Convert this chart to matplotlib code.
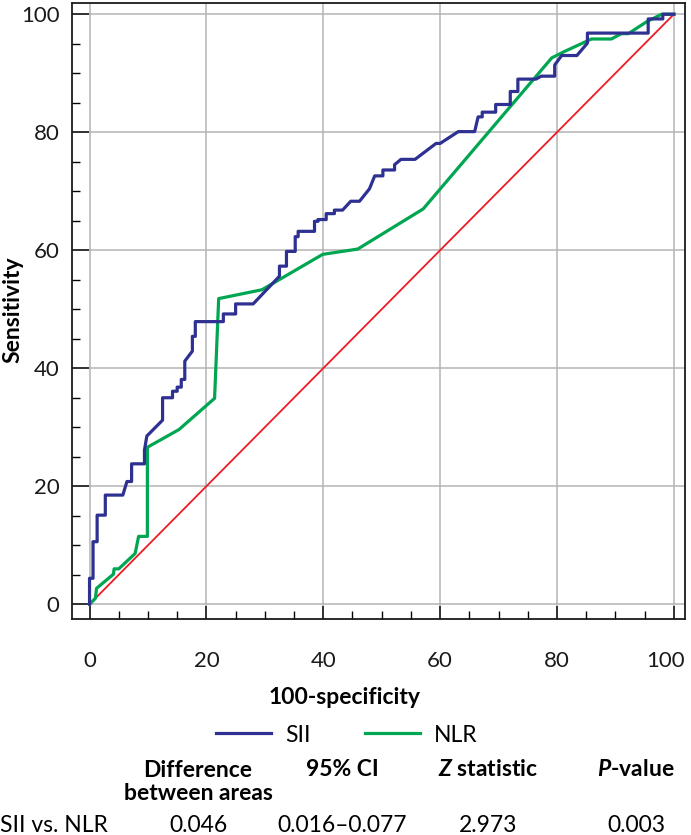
import matplotlib
matplotlib.use("Agg")
import matplotlib.pyplot as plt
from matplotlib.ticker import MultipleLocator, FixedLocator, FuncFormatter

plt.rcParams['font.family'] = ['Lato', 'DejaVu Sans']
plt.rcParams['mathtext.fontset'] = 'custom'
plt.rcParams['mathtext.it'] = 'Lato:italic:bold'
plt.rcParams['mathtext.rm'] = 'Lato:bold'

# ROC curves (100-specificity, sensitivity)
sii_fpr = [0, 0, 0.6, 0.6, 1.3, 1.3, 2.7, 2.7, 5.7, 6.4, 7.2, 7.2, 9.4, 9.4, 9.8,
           12.5, 12.5, 14.2, 14.2, 15.0, 15.0, 15.7, 15.7, 16.3, 16.3, 17.6, 17.6,
           18.1, 18.1, 22.9, 22.9, 25.0, 25.0, 28.0, 32.5, 32.5, 33.7, 33.7, 35.2,
           35.2, 35.7, 35.7, 38.5, 38.5, 39.1, 39.1, 40.5, 40.5, 41.9, 41.9, 43.3,
           44.7, 46.2, 47.9, 48.8, 50.2, 50.2, 52.2, 52.2, 53.3, 55.7, 59.3, 60.0,
           63.1, 65.9, 66.5, 67.2, 67.2, 69.5, 69.5, 72.0, 72.0, 73.3, 73.3, 76.4,
           77.3, 79.6, 79.6, 80.8, 83.4, 85.2, 85.2, 95.6, 95.6, 98.1, 98.1, 100]
sii_tpr = [0, 4.4, 4.4, 10.6, 10.6, 15.1, 15.1, 18.5, 18.5, 20.8, 20.8, 23.8, 23.8, 26.1, 28.5,
           31.2, 35.0, 35.0, 36.1, 36.1, 36.8, 36.8, 38.1, 38.1, 41.2, 42.9, 45.4,
           45.4, 47.9, 47.9, 49.2, 49.2, 50.9, 50.9, 55.6, 57.3, 57.3, 59.8, 59.8,
           62.3, 62.3, 63.2, 63.2, 64.9, 64.9, 65.2, 65.2, 66.2, 66.2, 66.8, 66.8,
           68.3, 68.3, 70.4, 72.6, 72.6, 73.6, 73.6, 74.5, 75.4, 75.4, 78.1, 78.1,
           80.1, 80.1, 82.6, 82.6, 83.4, 83.4, 84.7, 84.7, 86.9, 86.9, 89.0, 89.0,
           89.5, 89.5, 91.4, 93.0, 93.0, 95.1, 96.8, 96.8, 99.2, 99.2, 100, 100]

nlr_fpr = [0, 1.0, 1.2, 4.1, 4.2, 5.0, 7.8, 8.4, 9.9, 9.9, 15.3, 21.4, 22.1, 29.5,
           39.9, 45.9, 57.1, 79.1, 81.1, 85.9, 89.3, 91.0, 92.2, 95.3, 97.9, 100]
nlr_tpr = [0, 1.0, 2.7, 5.1, 6.0, 6.0, 8.6, 11.5, 11.5, 26.6, 29.6, 34.9, 51.8, 53.3,
           59.3, 60.2, 67.0, 92.6, 93.6, 95.8, 95.8, 96.7, 96.7, 98.7, 100, 100]

ref_line = [0, 100]
x_ticks = [0, 20, 40, 60, 80, 100]

# comparison table
col_heads = ['Difference\nbetween areas', '95% CI', '$Z$ statistic', '$P$-value']
row_label = 'SII vs. NLR'
row_vals = ['0.046', '0.016\u20130.077', '2.973', '0.003']

FS = 16.5
TICK_FS = 16
XPAD = 23
fig = plt.figure(figsize=(6.91, 8.35), dpi=100)
W, H = 691, 835
ax = fig.add_axes([72 / W, 1 - 619 / H, (685 - 72) / W, (619 - 3) / H])

ax.plot(ref_line, ref_line, color='#ed1c24', lw=1.3, zorder=2)
ax.plot(nlr_fpr, nlr_tpr, color='#00a651', lw=2.3, label='NLR', zorder=3)
ax.plot(sii_fpr, sii_tpr, color='#2e3192', lw=2.3, label='SII', zorder=4)

ax.set_xlim(-3.0, 101.9)
ax.set_ylim(-2.5, 101.9)
ax.xaxis.set_major_locator(FixedLocator(x_ticks))
ax.xaxis.set_minor_locator(MultipleLocator(5))
ax.yaxis.set_major_locator(MultipleLocator(20))
ax.yaxis.set_minor_locator(MultipleLocator(5))
# the last x label is drawn by hand, nudged left so it stays inside the figure
ax.xaxis.set_major_formatter(FuncFormatter(lambda v, p: '' if v == x_ticks[-1] else f'{v:.0f}'))
ax.annotate(str(x_ticks[-1]), xy=(x_ticks[-1], 0), xycoords=('data', 'axes fraction'),
            xytext=(-6, -XPAD), textcoords='offset points', ha='center', va='top',
            fontsize=TICK_FS, color='#1a1a1a', annotation_clip=False)

ax.grid(True, which='major', color='#b4b4b4', lw=1.1, zorder=0)
for s in ax.spines.values():
    s.set_linewidth(1.3)
    s.set_color('#1a1a1a')

ax.tick_params(axis='x', which='major', direction='in', length=9.5, width=1.2,
               pad=XPAD, labelsize=TICK_FS, colors='#1a1a1a')
ax.tick_params(axis='x', which='minor', direction='in', length=5.5, width=1.0)
ax.tick_params(axis='y', which='major', direction='in', length=12, width=1.2,
               pad=9, labelsize=TICK_FS, colors='#1a1a1a')
ax.tick_params(axis='y', which='minor', direction='in', length=5.5, width=1.0)

fig.text(13 / W, 1 - 310 / H, 'Sensitivity', rotation=90, ha='center', va='center',
         fontsize=FS, fontweight='bold')
fig.text(345 / W, 1 - 697 / H, '100-specificity', ha='center', va='center',
         fontsize=FS, fontweight='bold')

handles, labels = ax.get_legend_handles_labels()
fig.legend(handles[::-1], labels[::-1], loc='center', bbox_to_anchor=(347 / W, 1 - 735 / H),
           ncol=2, frameon=False, fontsize=FS, handlelength=2.4, columnspacing=2.4,
           handletextpad=0.6)

col_x = [198, 342, 488, 636]
for cx, head in zip(col_x, col_heads):
    yy = 782 if '\n' in head else 770
    fig.text(cx / W, 1 - yy / H, head, ha='center', va='center', fontsize=FS,
             fontweight='bold', linespacing=1.1)
fig.text(0.5 / W, 1 - 826 / H, row_label, ha='left', va='center', fontsize=FS)
for cx, v in zip(col_x, row_vals):
    fig.text(cx / W, 1 - 826 / H, v, ha='center', va='center', fontsize=FS)

fig.savefig('out.png', dpi=100)
